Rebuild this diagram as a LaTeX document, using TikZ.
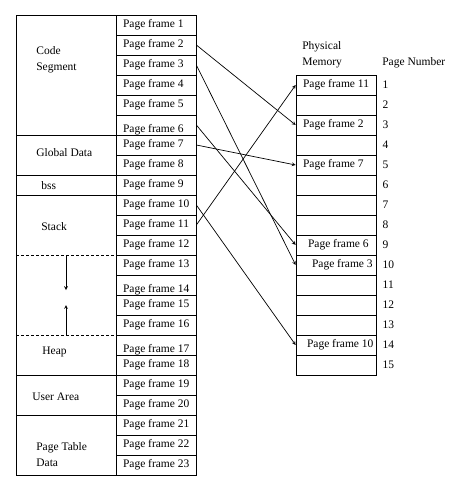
\documentclass[tikz,border=0pt]{standalone}
\usepackage{fontspec}
\setmainfont{Liberation Serif}
\usetikzlibrary{arrows,positioning}
\tikzstyle{aS}=[every edge/.style={draw,->,>=stealth}]
\tikzstyle{Fbox}=[draw,minimum width=80pt,minimum height=20pt,inner sep=0]
\tikzstyle{Flab}=[anchor=west,inner sep=0]
\tikzstyle{Slab}=[anchor=west,inner sep=0,align=left]
\tikzstyle{gap}=[densely dashed]
\tikzstyle{growarrow}=[->,>=stealth]
\begin{document}
\begin{tikzpicture}[aS,x=1pt,y=-1pt,line width=0.7pt,
    font=\fontsize{11.5}{16}\selectfont]
  \useasboundingbox (0,0) rectangle (462,492);

  % process address space
  \draw (16,15) rectangle (116,475);
  \foreach \y in {135,175,195,375,415}
    \draw (16,\y) -- (116,\y);
  \foreach \y in {255,335}
    \draw[gap] (16,\y) -- (116,\y);
  \coordinate (stk) at (66,255);
  \coordinate (stke) at (66,290);
  \coordinate (hp) at (66,335);
  \coordinate (hpe) at (66,305);
  \draw[growarrow] (stk) -- (stke);
  \draw[growarrow] (hp) -- (hpe);

  \node[Slab] (code) at (36,60) {Code\\Segment};
  \node[Slab] (glob) at (36,153) {Global Data};
  \node[Slab] (bss) at (41,186) {bss};
  \node[Slab] (stack) at (41,227) {Stack};
  \node[Slab] (heap) at (42,352) {Heap};
  \node[Slab] (user) at (32,397) {User Area};
  \node[Slab] (ptd) at (36,455) {Page Table\\Data};

  % page frames
  \foreach \i/\d in {1/0,2/0,3/0,4/0,5/0,6/5,7/0,8/0,9/0,10/0,11/0,12/0,
                     13/0,14/5,15/0,16/0,17/5,18/0,19/0,20/0,21/0,22/0,23/0}{
    \node[Fbox] (pf\i) at (156,5+20*\i) {};
    \node[Flab] at ([xshift=7pt,yshift=-\d pt]pf\i.west) {Page frame \i};
  }

  % physical memory
  \node[Slab] (phys) at (302,55) {Physical\\Memory};
  \node[Flab] (pnum) at (382,63) {Page Number};
  \foreach \i in {1,...,15}{
    \node[Fbox] (m\i) at (336,65+20*\i) {};
    \node[Flab] at ([xshift=6pt]m\i.east) {\i};
  }
  \node[Flab] at ([xshift=7pt]m1.west) {Page frame 11};
  \node[Flab] at ([xshift=7pt]m3.west) {Page frame 2};
  \node[Flab] at ([xshift=7pt]m5.west) {Page frame 7};
  \node[Flab] at ([xshift=12pt]m9.west) {Page frame 6};
  \node[Flab] at ([xshift=16pt]m10.west) {Page frame 3};
  \node[Flab] at ([xshift=11pt]m14.west) {Page frame 10};

  \path
  (pf2.east) edge (m3.west)
  (pf3.east) edge (m10.west)
  (pf6.east) edge (m9.west)
  (pf7.east) edge (m5.west)
  (pf10.east) edge (m14.west)
  (pf11.east) edge (m1.west)
  ;
\end{tikzpicture}
\end{document}
